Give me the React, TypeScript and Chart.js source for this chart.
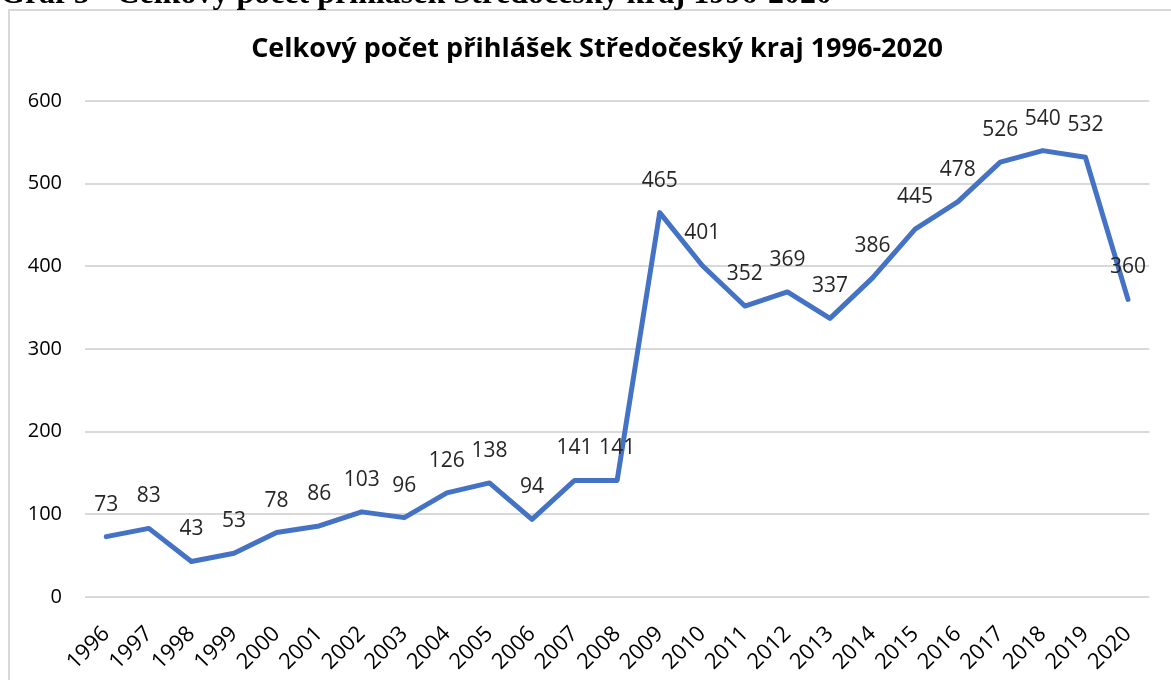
import React, { useEffect, useRef } from "react";
import { Chart, registerables } from "chart.js";

Chart.register(...registerables);

const heading = "Graf 5 - Celkový počet přihlášek Středočeský kraj 1996-2020";
const chartTitle = "Celkový počet přihlášek Středočeský kraj 1996-2020";
const years = [
  "1996", "1997", "1998", "1999", "2000", "2001", "2002", "2003", "2004",
  "2005", "2006", "2007", "2008", "2009", "2010", "2011", "2012", "2013",
  "2014", "2015", "2016", "2017", "2018", "2019", "2020",
];
const applications = [
  73, 83, 43, 53, 78, 86, 103, 96, 126, 138, 94, 141, 141, 465, 401, 352,
  369, 337, 386, 445, 478, 526, 540, 532, 360,
];
const yTicks = [0, 100, 200, 300, 400, 500, 600];

const FONT = "'Open Sans', 'Noto Sans', sans-serif";

const labelPlugin = {
  id: "pointLabels",
  afterDatasetsDraw(chart: any) {
    const ctx = chart.ctx;
    const meta = chart.getDatasetMeta(0);
    ctx.save();
    ctx.font = `21px ${FONT}`;
    ctx.fillStyle = "#262626";
    ctx.textAlign = "center";
    ctx.textBaseline = "middle";
    meta.data.forEach((pt: any, i: number) => {
      ctx.fillText(String(applications[i]), pt.x, pt.y - 32);
    });
    ctx.restore();
  },
};

const titlePlugin = {
  id: "boxTitle",
  afterDraw(chart: any) {
    const ctx = chart.ctx;
    ctx.save();
    ctx.font = `bold 27px ${FONT}`;
    ctx.fillStyle = "#000000";
    ctx.textAlign = "center";
    ctx.textBaseline = "middle";
    ctx.fillText(chartTitle, 597, 49);
    ctx.restore();
  },
};

export default function App() {
  const ref = useRef<HTMLCanvasElement | null>(null);

  useEffect(() => {
    if (!ref.current) return;
    const chart = new Chart(ref.current, {
      type: "line",
      data: {
        labels: years,
        datasets: [
          {
            data: applications,
            borderColor: "#4472C4",
            borderWidth: 5,
            pointRadius: 0,
            tension: 0,
            borderJoinStyle: "round",
            borderCapStyle: "round",
          },
        ],
      },
      options: {
        animation: false,
        responsive: false,
        maintainAspectRatio: false,
        layout: { padding: { left: 0, right: 18, top: 101, bottom: 0 } },
        plugins: {
          legend: { display: false },
          tooltip: { enabled: false },
          title: { display: false },
        },
        scales: {
          x: {
            offset: true,
            grid: { display: false, drawTicks: false },
            border: { display: false },
            ticks: {
              color: "#000000",
              font: { family: FONT, size: 22 },
              minRotation: 45,
              maxRotation: 45,
              autoSkip: false,
              padding: 24,
            },
            afterFit: (s: any) => {
              s.height = 83;
            },
          },
          y: {
            min: 0,
            max: 600,
            afterBuildTicks: (s: any) => {
              s.ticks = yTicks.map((v) => ({ value: v }));
            },
            grid: { color: "#d9d9d9", lineWidth: 2, drawTicks: false },
            border: { display: false },
            ticks: {
              color: "#000000",
              font: { family: FONT, size: 20 },
              padding: 23,
            },
            afterFit: (s: any) => {
              s.width = 85;
            },
          },
        },
      },
      plugins: [labelPlugin, titlePlugin],
    });
    return () => chart.destroy();
  }, []);

  return (
    <div
      style={{
        position: "fixed",
        left: 0,
        top: 0,
        width: 1171,
        height: 680,
        overflow: "hidden",
        background: "#ffffff",
      }}
    >
      <canvas
        ref={ref}
        width={1171}
        height={680}
        style={{ position: "absolute", left: 0, top: 0 }}
      />
      <div
        style={{
          position: "absolute",
          left: 8,
          top: 9,
          width: 1200,
          height: 700,
          border: "2px solid #d9d9d9",
          boxSizing: "border-box",
          pointerEvents: "none",
        }}
      />
      <div
        style={{
          position: "absolute",
          left: 0,
          top: -23,
          whiteSpace: "nowrap",
          fontFamily: "'Liberation Serif', 'Times New Roman', serif",
          fontWeight: "bold",
          fontSize: 32,
          lineHeight: "30px",
          color: "#000",
        }}
      >
        {heading}
      </div>
    </div>
  );
}
